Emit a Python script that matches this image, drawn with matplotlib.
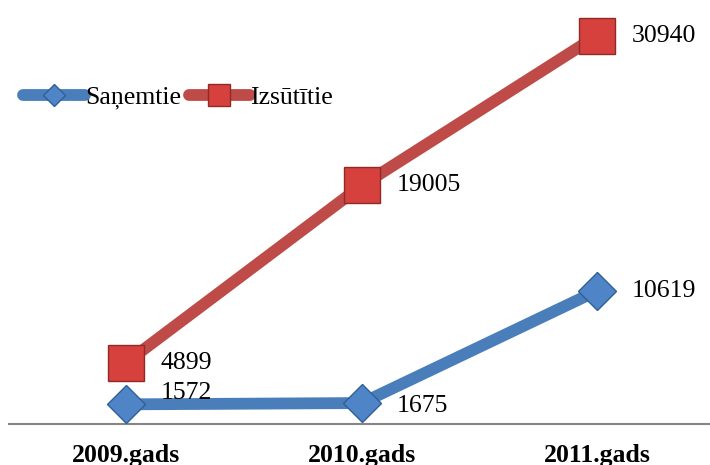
import matplotlib.pyplot as plt
import matplotlib.patheffects as pe

years = ["2009.gads", "2010.gads", "2011.gads"]
sanemtie = [1572, 1675, 10619]
izsutitie = [4899, 19005, 30940]

plt.rcParams['font.family'] = ['Liberation Serif', 'DejaVu Serif']

fig = plt.figure(figsize=(7.1, 4.65), dpi=100)
ax = fig.add_axes([0.012, 0.088, 0.995, 0.918])

x = list(range(len(years)))

ax.plot(x, sanemtie, color="#4A7EBB", lw=8.5, solid_capstyle="round",
        marker="D", markersize=19.5, markerfacecolor="#4F85C6",
        markeredgecolor="#2F5F98", markeredgewidth=1, label="Saņemtie",
        clip_on=False, zorder=3)
ax.plot(x, izsutitie, color="#BE4B48", lw=8.5, solid_capstyle="round",
        marker="s", markersize=26.5, markerfacecolor="#D6413D",
        markeredgecolor="#8E2B28", markeredgewidth=1, label="Izsūtītie",
        clip_on=False, zorder=3)

offs_blue = [(25, 8), (25, -2), (25, 0)]
offs_red = [(25, 0), (25, 0), (25, 0)]
for i in x:
    ax.annotate(str(sanemtie[i]), (i, sanemtie[i]), xytext=offs_blue[i],
                textcoords="offset points", va="center", ha="left",
                fontsize=18.5, zorder=5)
    ax.annotate(str(izsutitie[i]), (i, izsutitie[i]), xytext=offs_red[i],
                textcoords="offset points", va="center", ha="left",
                fontsize=18.5, zorder=5)

ax.set_xlim(-0.5, 2.5)
ax.set_ylim(0, 34000)
ax.set_xticks(x)
ax.set_xticklabels(years, fontsize=18.5, fontweight="bold")
ax.tick_params(axis="x", length=0, pad=14)
ax.set_yticks([])
for s in ["left", "right", "top"]:
    ax.spines[s].set_visible(False)
ax.spines["bottom"].set_color("#868686")
ax.spines["bottom"].set_linewidth(1.5)

leg = fig.legend(loc="center left", bbox_to_anchor=(0.0, 0.79), ncol=2,
                 frameon=False, fontsize=18.5, handlelength=2.4,
                 handletextpad=0.0, columnspacing=0.3, markerscale=0.6)

fig.savefig("out.png", dpi=100)
